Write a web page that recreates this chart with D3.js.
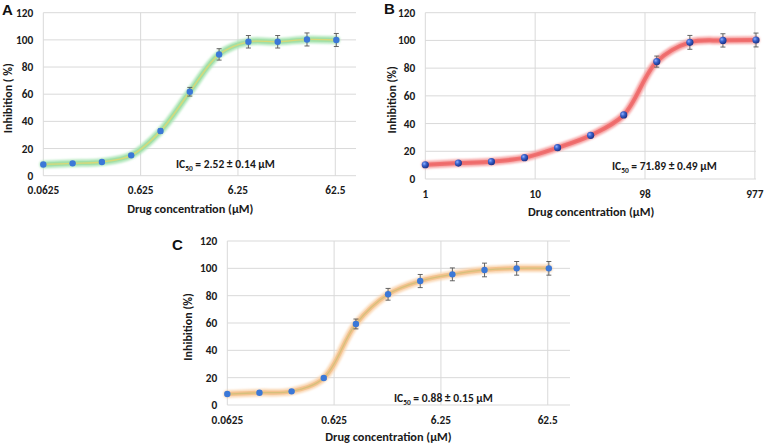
<!DOCTYPE html>
<html><head><meta charset="utf-8">
<script src="https://cdn.jsdelivr.net/npm/d3@7"></script>
<style>
html,body{margin:0;padding:0;background:#fff;}
svg{display:block;font-family:Carlito, Lato, "Open Sans", sans-serif;}
</style></head>
<body>
<svg id="chart" width="765" height="443"></svg>
<script>
// ---------- data ----------
const concA = [0.0625, 0.125, 0.25, 0.5, 1, 2, 4, 8, 16, 32, 64];
const inhA  = [8.3, 9.1, 10.1, 15.0, 32.9, 61.8, 89.3, 98.6, 98.6, 100.3, 99.9];
const errA  = [0.6, 0.7, 0.8, 1.0, 1.5, 3.2, 4.2, 4.6, 4.6, 4.8, 4.8];

const concB = [0.9766, 1.953, 3.906, 7.8125, 15.625, 31.25, 62.5, 125, 250, 500, 1000];
const inhB  = [10.3, 11.5, 12.5, 15.4, 22.6, 31.5, 46.2, 84.7, 98.6, 100, 100.3];
const errB  = [0.5, 0.6, 0.6, 0.8, 1.0, 1.2, 1.5, 4.0, 5.0, 4.8, 5.0];

const concC = [0.0625, 0.125, 0.25, 0.5, 1, 2, 4, 8, 16, 32, 64];
const inhC  = [8.0, 9.0, 10.0, 19.8, 59.3, 81.0, 90.7, 95.6, 98.8, 100, 100];
const errC  = [0.6, 0.7, 0.8, 1.0, 3.6, 4.3, 4.8, 4.7, 5.0, 5.0, 5.0];

const xTicksAC = [0.0625, 0.625, 6.25, 62.5];
const xTickLabelsAC = ["0.0625", "0.625", "6.25", "62.5"];
const xTicksB = [0.9766, 9.766, 97.66, 976.6];
const xTickLabelsB = ["1", "10", "98", "977"];
const yTicks = [0, 20, 40, 60, 80, 100, 120];

const ic50A = "2.52 ± 0.14 µM";
const ic50B = "71.89 ± 0.49 µM";
const ic50C = "0.88 ± 0.15 µM";

// ---------- layout ----------
const panels = [
  {letter:"A", conc:concA, inh:inhA, err:errA, ticks:xTicksAC, tickLabels:xTickLabelsAC, ic:ic50A,
   yTitle:"Inhibition ( %)", xDom:[0.0625, 102], x0:43.3, x1:356, y0:175.7, y1:12.7,
   letterPos:[2,15], yTitleX:12, xTitleY:213, icX:176, icY:168,
   glow:"#aee6b8", mid:"#a3dfa6", core:"#d8d877", marker:"#3b78d8", sphere:false},
  {letter:"B", conc:concB, inh:inhB, err:errB, ticks:xTicksB, tickLabels:xTickLabelsB, ic:ic50B,
   yTitle:"Inhibition (%)", xDom:[0.9766, 1000], x0:425.3, x1:756, y0:179, y1:12.7,
   letterPos:[384,14], yTitleX:396, xTitleY:216, icX:612, icY:170,
   glow:"#f6a0a0", mid:"#f07272", core:"#ee6a6a", marker:"#2f55b8", sphere:true},
  {letter:"C", conc:concC, inh:inhC, err:errC, ticks:xTicksAC, tickLabels:xTickLabelsAC, ic:ic50C,
   yTitle:"Inhibition (%)", xDom:[0.0625, 101], x0:227.3, x1:570, y0:405, y1:241,
   letterPos:[172,250], yTitleX:192, xTitleY:441, icX:394, icY:402,
   glow:"#f9d5b0", mid:"#f3c28e", core:"#d6c07c", marker:"#3b78d8", sphere:false}
];

const svg = d3.select("#chart");
const defs = svg.append("defs");
const rg = defs.append("radialGradient").attr("id","sph").attr("cx","35%").attr("cy","35%").attr("r","65%");
rg.append("stop").attr("offset","0%").attr("stop-color","#8fb0ff");
rg.append("stop").attr("offset","45%").attr("stop-color","#3a62cc");
rg.append("stop").attr("offset","100%").attr("stop-color","#1c348a");
const blur = defs.append("filter").attr("id","soft").attr("x","-10%").attr("y","-10%").attr("width","120%").attr("height","120%");
blur.append("feGaussianBlur").attr("stdDeviation", 0.9);

panels.forEach(p => {
  const x = d3.scaleLog().domain(p.xDom).range([p.x0, p.x1]);
  const y = d3.scaleLinear().domain([0, 120]).range([p.y0, p.y1]);
  const g = svg.append("g");

  // gridlines
  g.selectAll(".hg").data(yTicks).join("line")
    .attr("x1", p.x0).attr("x2", p.x1)
    .attr("y1", d => y(d)).attr("y2", d => y(d))
    .attr("stroke", "#d9d9d9").attr("stroke-width", 1);
  g.selectAll(".vg").data(p.ticks).join("line")
    .attr("x1", d => x(d)).attr("x2", d => x(d))
    .attr("y1", p.y0).attr("y2", p.y1)
    .attr("stroke", "#d9d9d9").attr("stroke-width", 1);

  // y tick labels
  g.selectAll(".yl").data(yTicks).join("text")
    .attr("x", p.x0 - 10).attr("y", d => y(d) + 4)
    .attr("text-anchor", "end").attr("font-size", 11.3).attr("font-weight", "bold")
    .attr("fill", "#1a1a1a").text(d => d);
  // x tick labels
  g.selectAll(".xl").data(p.ticks).join("text")
    .attr("x", d => x(d)).attr("y", p.y0 + 18.5)
    .attr("text-anchor", "middle").attr("font-size", 11.3).attr("font-weight", "bold")
    .attr("fill", "#1a1a1a").text((d, i) => p.tickLabels[i]);

  // axis titles
  g.append("text").attr("x", (x(p.ticks[0]) + x(p.ticks[3])) / 2 + 1).attr("y", p.xTitleY)
    .attr("text-anchor", "middle").attr("font-size", 12.3).attr("font-weight", "bold")
    .attr("fill", "#1a1a1a").text("Drug concentration (µM)");
  g.append("text")
    .attr("transform", `translate(${p.yTitleX},${(p.y0 + p.y1) / 2 + 4}) rotate(-90)`)
    .attr("text-anchor", "middle").attr("font-size", 12).attr("font-weight", "bold")
    .attr("fill", "#1a1a1a").text(p.yTitle);

  // panel letter
  g.append("text").attr("x", p.letterPos[0]).attr("y", p.letterPos[1])
    .attr("font-family", "Arial, 'Liberation Sans', sans-serif")
    .attr("font-size", 15).attr("font-weight", "bold").attr("fill", "#111").text(p.letter);

  // IC50 annotation
  const t = g.append("text").attr("x", p.icX).attr("y", p.icY)
    .attr("font-size", 11.5).attr("font-weight", "bold").attr("fill", "#1a1a1a");
  t.append("tspan").text("IC");
  t.append("tspan").attr("font-size", 7.5).attr("dy", 2.5).text("50");
  t.append("tspan").attr("dy", -2.5).text(" = " + p.ic);

  // curve
  const pts = p.conc.map((c, i) => [x(c), y(p.inh[i])]);
  const line = d3.line().curve(d3.curveCatmullRom.alpha(0.5));
  g.append("path").attr("d", line(pts)).attr("fill", "none")
    .attr("stroke", p.glow).attr("stroke-width", 7.5).attr("stroke-linecap", "round")
    .attr("filter", "url(#soft)");
  g.append("path").attr("d", line(pts)).attr("fill", "none")
    .attr("stroke", p.mid).attr("stroke-width", 4).attr("stroke-linecap", "round");
  g.append("path").attr("d", line(pts)).attr("fill", "none")
    .attr("stroke", p.core).attr("stroke-width", 1.3).attr("stroke-linecap", "round");

  // error bars
  const eb = g.selectAll(".eb").data(p.conc).join("g");
  eb.append("line")
    .attr("x1", d => x(d)).attr("x2", d => x(d))
    .attr("y1", (d, i) => y(p.inh[i] - p.err[i])).attr("y2", (d, i) => y(p.inh[i] + p.err[i]))
    .attr("stroke", "#555").attr("stroke-width", 0.9);
  [-1, 1].forEach(s => {
    eb.append("line")
      .attr("x1", d => x(d) - 2.5).attr("x2", d => x(d) + 2.5)
      .attr("y1", (d, i) => y(p.inh[i] + s * p.err[i])).attr("y2", (d, i) => y(p.inh[i] + s * p.err[i]))
      .attr("stroke", "#555").attr("stroke-width", 0.9);
  });

  // markers
  g.selectAll(".mk").data(p.conc).join("circle")
    .attr("cx", d => x(d)).attr("cy", (d, i) => y(p.inh[i]))
    .attr("r", p.sphere ? 3.6 : 3.2)
    .attr("fill", p.sphere ? "url(#sph)" : p.marker);
});
</script>
</body></html>
